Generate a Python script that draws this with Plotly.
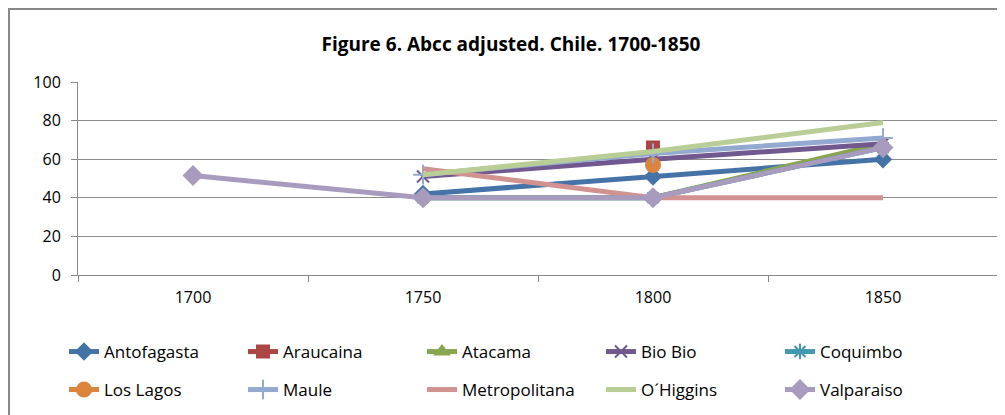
import plotly.graph_objects as go

years = [1700, 1750, 1800, 1850]
antofagasta = [None, 42, 51, 60]
araucaina = [None, None, 66, None]
atacama = [None, 40, 40, 68]
bio_bio = [None, 51, 60, 68]
coquimbo = [None, 40, 40, 66]
los_lagos = [None, None, 57, None]
maule = [None, 52, 63, 71]
metropolitana = [None, 55, 40, 40]
ohiggins = [None, 52, 64, 79]
valparaiso = [51.5, 40, 40, 66]

series = [
    ("Antofagasta", antofagasta, "#4572A7", "diamond", 12),
    ("Araucaina", araucaina, "#AA4643", "square", 12),
    ("Atacama", atacama, "#89A54E", "triangle-up", 12),
    ("Bio Bio", bio_bio, "#71588F", "x-thin", 12),
    ("Coquimbo", coquimbo, "#4198AF", "asterisk", 13),
    ("Los Lagos", los_lagos, "#DB843D", "circle", 14),
    ("Maule", maule, "#93A9CF", "cross-thin", 14),
    ("Metropolitana", metropolitana, "#D19392", None, 0),
    ("O´Higgins", ohiggins, "#B9CD96", None, 0),
    ("Valparaiso", valparaiso, "#A99BBD", "diamond", 14),
]

FONT = "Open Sans, Liberation Sans, sans-serif"

# plot area (figure coordinates)
L, T, W, H = 70, 74, 920, 193

fig = go.Figure()
for i, (name, vals, color, sym, size) in enumerate(series):
    leg = "legend" if i < 5 else "legend2"
    if sym is None:
        fig.add_trace(go.Scatter(x=years, y=vals, name=name, mode="lines",
                                 legend=leg,
                                 line=dict(color=color, width=5)))
    else:
        fig.add_trace(go.Scatter(x=years, y=vals, name=name, mode="lines+markers",
                                 legend=leg,
                                 line=dict(color=color, width=5),
                                 marker=dict(symbol=sym, size=size, color=color,
                                             line=dict(color=color, width=2))))

leg_common = dict(orientation="h", xanchor="left", yanchor="middle",
                  entrywidth=134, entrywidthmode="pixels",
                  font=dict(size=17, family=FONT), bgcolor="rgba(0,0,0,0)")

fig.update_layout(
    width=1005, height=415,
    margin=dict(l=L, r=1005 - L - W, t=T, b=415 - T - H, autoexpand=False),
    paper_bgcolor="white", plot_bgcolor="white",
    font=dict(family=FONT, size=16, color="black"),
    title=dict(text="<b>Figure 6. Abcc adjusted. Chile. 1700-1850</b>",
               x=503 / 1005, xanchor="center", y=1 - 36 / 415, yanchor="middle",
               font=dict(size=19)),
    showlegend=True,
    legend=dict(x=(56 - L) / W, y=-77 / H, **leg_common),
    legend2=dict(x=(56 - L) / W, y=-115 / H, **leg_common),
    xaxis=dict(range=[1675, 1875], tickmode="array", tickvals=years,
               ticktext=[str(y) for y in years], ticks="", showgrid=False,
               showline=True, linecolor="#888888", linewidth=1, zeroline=False,
               tickfont=dict(size=16), ticklabelstandoff=8,
               minor=dict(tickvals=[1675, 1725, 1775, 1825, 1875], ticks="outside",
                          ticklen=6, tickcolor="#888888", showgrid=False)),
    yaxis=dict(range=[0, 100], tickvals=[0, 20, 40, 60, 80, 100],
               showgrid=True, gridcolor="#8c8c8c", gridwidth=1,
               showline=True, linecolor="#888888", linewidth=1, zeroline=False,
               ticks="outside", ticklen=6, tickcolor="#888888",
               tickfont=dict(size=16), ticklabelstandoff=7),
)

fig.add_shape(type="rect", xref="paper", yref="paper",
              x0=(1 - L) / W, x1=(1030 - L) / W,
              y0=(T + H - 440) / H, y1=(T + H - 1) / H,
              line=dict(color="#888888", width=2))

fig.write_html("out.html")
